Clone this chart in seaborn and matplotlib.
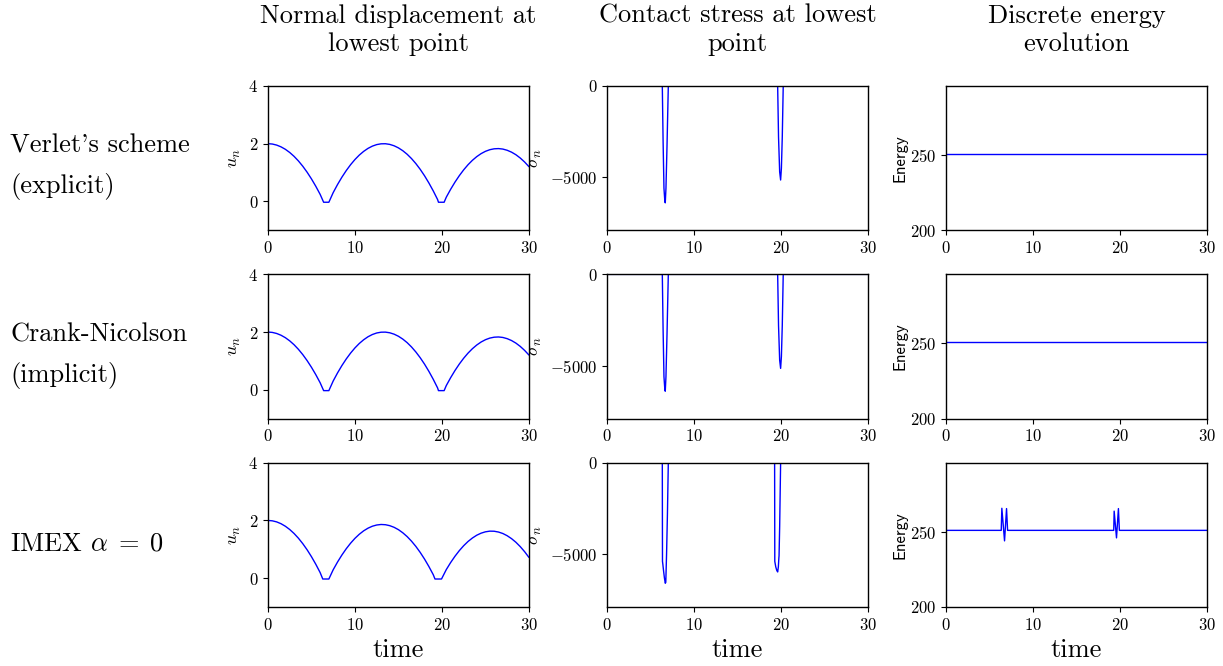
import numpy as np
import pandas as pd
import matplotlib
matplotlib.use('Agg')
import matplotlib.pyplot as plt
import seaborn as sns

# Row and column labels
row_labels = ["Verlet's scheme\n(explicit)", "Crank-Nicolson\n(implicit)", r"IMEX $\alpha\;=\;0$"]
col_titles = ["Normal displacement at\nlowest point", "Contact stress at lowest\npoint", "Discrete energy\nevolution"]
x_ticks = [0, 10, 20, 30]

# Normal displacement (Verlet and Crank-Nicolson look the same)
t_u_expl = [0, 0.5, 1, 1.5, 2, 2.5, 3, 3.5, 4, 4.5, 5, 5.5, 6, 6.4, 7, 7.5, 8, 8.5, 9, 9.5,
            10, 10.5, 11, 11.5, 12, 12.5, 13, 13.5, 14, 14.5, 15, 15.5, 16, 16.5, 17, 17.5,
            18, 18.5, 19, 19.5, 19.6, 20, 20.25, 20.5, 21, 21.5, 22, 22.5, 23, 23.5, 24, 24.5,
            25, 25.5, 26, 26.5, 27, 27.5, 28, 28.5, 29, 29.5, 30]
u_expl = [2.000, 1.988, 1.951, 1.890, 1.805, 1.695, 1.561, 1.402, 1.219, 1.011, 0.779, 0.523,
          0.242, -0.03, -0.03, 0.305, 0.585, 0.839, 1.068, 1.272, 1.451, 1.605, 1.733, 1.837,
          1.915, 1.968, 1.995, 1.998, 1.975, 1.927, 1.854, 1.756, 1.633, 1.484, 1.310, 1.111,
          0.887, 0.637, 0.363, 0.063, -0.03, -0.03, -0.03, 0.146, 0.419, 0.668, 0.893, 1.094,
          1.271, 1.423, 1.551, 1.655, 1.735, 1.791, 1.822, 1.830, 1.813, 1.771, 1.706, 1.617,
          1.503, 1.365, 1.203]
t_u_imex = [0, 0.5, 1, 1.5, 2, 2.5, 3, 3.5, 4, 4.5, 5, 5.5, 6, 6.3, 7, 7.5, 8, 8.5, 9, 9.5,
            10, 10.5, 11, 11.5, 12, 12.5, 13, 13.5, 14, 14.5, 15, 15.5, 16, 16.5, 17, 17.5,
            18, 18.5, 19, 19.2, 19.5, 19.95, 20.5, 21, 21.5, 22, 22.5, 23, 23.5, 24, 24.5,
            25, 25.5, 26, 26.5, 27, 27.5, 28, 28.5, 29, 29.5, 30]
u_imex = [2.000, 1.987, 1.950, 1.887, 1.799, 1.686, 1.548, 1.385, 1.196, 0.983, 0.744, 0.481,
          0.192, -0.03, -0.03, 0.292, 0.560, 0.802, 1.020, 1.212, 1.380, 1.522, 1.640, 1.732,
          1.800, 1.842, 1.860, 1.852, 1.819, 1.762, 1.680, 1.572, 1.440, 1.282, 1.100, 0.892,
          0.660, 0.402, 0.120, -0.03, -0.03, -0.03, 0.297, 0.541, 0.760, 0.955, 1.125, 1.271,
          1.391, 1.488, 1.559, 1.606, 1.629, 1.626, 1.598, 1.547, 1.470, 1.369, 1.244, 1.093,
          0.918, 0.718]

# Contact stress
t_sig_expl = [0, 6.36, 6.45, 6.55, 6.65, 6.70, 6.78, 6.90, 7.05,
              19.62, 19.72, 19.85, 19.96, 20.05, 20.15, 20.26, 30]
sig_expl = [0, 0, -3000, -5600, -6300, -6400, -5600, -3300, 0,
            0, -2800, -4700, -5150, -4500, -2800, 0, 0]
t_sig_imex = [0, 6.36, 6.38, 6.42, 6.50, 6.60, 6.70, 6.76, 6.85, 6.95, 7.05,
              19.27, 19.29, 19.40, 19.52, 19.62, 19.70, 19.76, 19.78, 19.85, 19.96, 30]
sig_imex = [0, 0, -5400, -5550, -5900, -6300, -6600, -6550, -5000, -2800, 0,
            0, -5400, -5700, -5900, -5980, -5700, -5200, -5100, -3500, 0, 0]

# Discrete energy
t_en_expl = [0, 10, 20, 30]
en_expl = [251, 251, 251, 251]
t_en_imex = [0, 6.35, 6.42, 6.73, 6.96, 7.08, 19.28, 19.33, 19.60, 19.82, 19.93, 30]
en_imex = [251, 251, 265.7, 244, 265.5, 251, 251, 263.8, 246, 265.5, 251, 251]

sns.set_style('ticks')
plt.rcParams['font.family'] = 'serif'
plt.rcParams['font.serif'] = ['cmr10', 'DejaVu Serif']
plt.rcParams['mathtext.fontset'] = 'cm'
plt.rcParams['axes.formatter.use_mathtext'] = True
plt.rcParams['axes.edgecolor'] = 'black'
plt.rcParams['xtick.color'] = 'black'
plt.rcParams['ytick.color'] = 'black'
plt.rcParams['text.color'] = 'black'
plt.rcParams['axes.labelcolor'] = 'black'
plt.rcParams['axes.unicode_minus'] = True

fig, axes = plt.subplots(3, 3, figsize=(12.23, 6.66), dpi=100)
fig.subplots_adjust(left=0.2191, right=0.9869, top=0.8709, bottom=0.0886,
                    wspace=0.299, hspace=0.306)

data = [
    [(t_u_expl, u_expl), (t_sig_expl, sig_expl), (t_en_expl, en_expl)],
    [(t_u_expl, u_expl), (t_sig_expl, sig_expl), (t_en_expl, en_expl)],
    [(t_u_imex, u_imex), (t_sig_imex, sig_imex), (t_en_imex, en_imex)],
]

for i in range(3):
    for j in range(3):
        ax = axes[i, j]
        t, v = data[i][j]
        df = pd.DataFrame({'t': t, 'v': v})
        sns.lineplot(data=df, x='t', y='v', ax=ax, color='blue', linewidth=1,
                     estimator=None, sort=False)
        ax.set_xlim(0, 30)
        ax.set_xticks(x_ticks)
        ax.tick_params(labelsize=12, length=3.5, width=0.8)
        ax.set_xlabel('')
        if j == 0:
            ax.set_ylim(-1, 4)
            ax.set_yticks([0, 2, 4])
            ax.set_ylabel(r'$u_n$', fontsize=13)
        elif j == 1:
            ax.set_ylim(-7900, 0)
            ax.set_yticks([-5000, 0])
            ax.set_ylabel(r'$\sigma_n$', fontsize=13)
        else:
            ax.set_ylim(200, 296)
            ax.set_yticks([200, 250])
            ax.set_ylabel('Energy', fontsize=12, family='cmss10', labelpad=2)
        if i == 2:
            ax.set_xlabel('time', fontsize=19)
        for s in ax.spines.values():
            s.set_linewidth(1.0)

# column titles
for j in range(3):
    pos = axes[0, j].get_position()
    fig.text((pos.x0 + pos.x1) / 2, 1 - 30 / 666, col_titles[j], ha='center', va='center',
             fontsize=19, linespacing=1.25)

# row labels
for i in range(3):
    pos = axes[i, 0].get_position()
    fig.text(10 / 1223, (pos.y0 + pos.y1) / 2 - 9 / 666, row_labels[i], ha='left', va='center',
             fontsize=19, linespacing=1.78)

fig.savefig('out.png', dpi=100)
